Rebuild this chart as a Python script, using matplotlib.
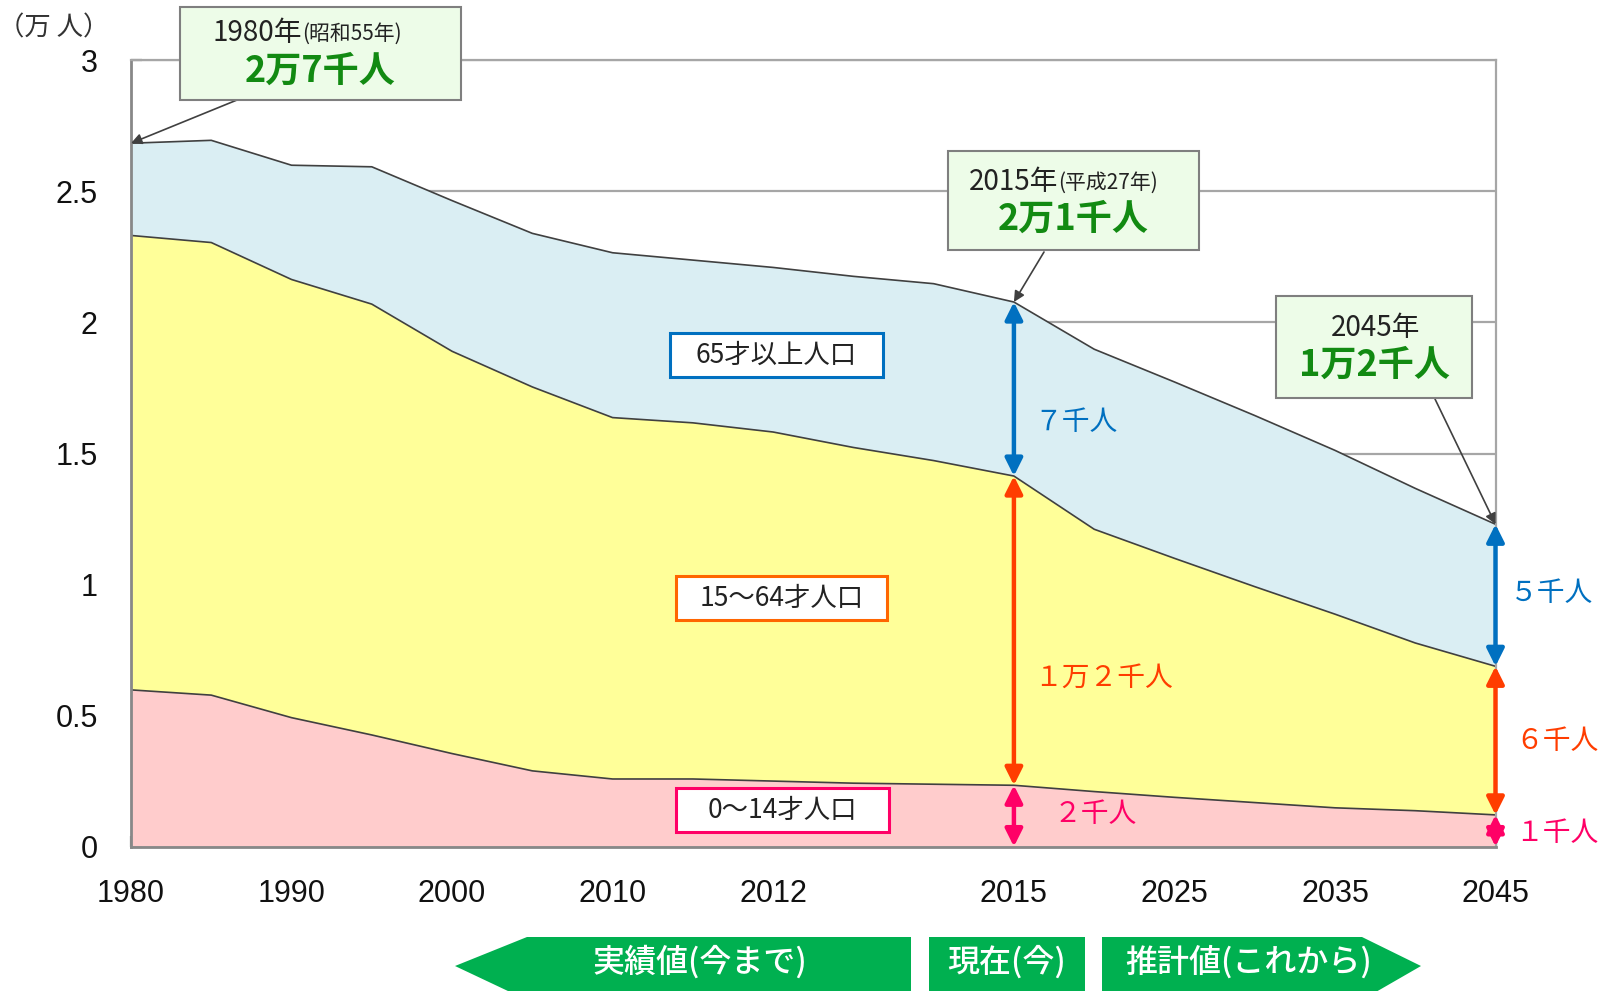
import matplotlib
matplotlib.use("Agg")
import matplotlib.pyplot as plt
from matplotlib.patches import Polygon, Rectangle
import numpy as np

plt.rcParams['font.family'] = ['Noto Sans CJK JP', 'DejaVu Sans']

# data (万人), 18 points on a category axis
tick_labels = ['1980', '', '1990', '', '2000', '', '2010', '', '2012', '', '',
               '2015', '', '2025', '', '2035', '', '2045']
young = [0.598, 0.578, 0.492, 0.426, 0.355, 0.289, 0.258, 0.258, 0.250,
         0.242, 0.238, 0.234, 0.210, 0.188, 0.168, 0.148, 0.137, 0.121]
working = [1.734, 1.727, 1.672, 1.644, 1.535, 1.465, 1.379, 1.359, 1.332,
           1.281, 1.235, 1.180, 1.001, 0.912, 0.824, 0.739, 0.640, 0.567]
elderly = [0.352, 0.390, 0.436, 0.524, 0.575, 0.586, 0.629, 0.621, 0.628,
           0.653, 0.675, 0.664, 0.687, 0.673, 0.653, 0.625, 0.590, 0.542]
group_names = ['0〜14才人口', '15〜64才人口', '65才以上人口']
group_colors = ['#FFCCCC', '#FFFF99', '#DAEEF3']
edge_colors = ['#FF0066', '#FF6600', '#0070C0']

x = np.arange(len(young))
c1 = np.array(young)
c2 = c1 + np.array(working)
c3 = c2 + np.array(elderly)

fig = plt.figure(figsize=(16.05, 9.91), dpi=100)
ax = fig.add_axes([131 / 1605, 1 - 846.6 / 991, (1495.5 - 131) / 1605, (846.6 - 60.4) / 991])

ax.stackplot(x, young, working, elderly, colors=group_colors, lw=0)
for c in (c1, c2, c3):
    ax.plot(x, c, color='#404040', lw=1.2)

ax.set_xlim(0, 17)
ax.set_ylim(0, 3)
ax.set_yticks(np.arange(0, 3.01, 0.5))
ax.set_yticklabels(['0', '0.5', '1', '1.5', '2', '2.5', '3'])
ax.set_xticks(x)
ax.set_xticklabels(tick_labels)
ax.yaxis.grid(True, color='#A6A6A6', lw=1.6)
ax.set_axisbelow(True)
ax.tick_params(axis='both', direction='in', color='#888888', width=1.6,
               labelsize=22, labelcolor='#111111')
ax.tick_params(axis='x', length=8, pad=23)
ax.tick_params(axis='y', length=8, pad=24)
for lbl in ax.get_xticklabels() + ax.get_yticklabels():
    lbl.set_family('Liberation Sans')
for s in ('left', 'bottom'):
    ax.spines[s].set_color('#888888')
    ax.spines[s].set_linewidth(2)
for s in ('top', 'right'):
    ax.spines[s].set_color('#A6A6A6')
    ax.spines[s].set_linewidth(1.6)

# overlay in pixel coordinates for boxes and banners
ov = fig.add_axes([0, 0, 1, 1], zorder=5)
ov.set_xlim(0, 1605)
ov.set_ylim(991, 0)
ov.axis('off')

ov.text(54, 28, '（万 人）', fontsize=19, color='#333333', ha='center', va='center')

# group label boxes
box_rects = [(676, 788, 213, 44), (676, 576, 211, 44), (670, 333, 213, 44)]
for name, ec, (bx, by, bw, bh) in zip(group_names, edge_colors, box_rects):
    ov.add_patch(Rectangle((bx, by), bw, bh, fc='white', ec=ec, lw=2.2, zorder=6))
    ov.text(bx + bw / 2, by + bh / 2, name, fontsize=19, color='#222222',
            ha='center', va='center', zorder=7)

# callout boxes
callouts = [
    ((180, 7, 281, 93), '1980年', '(昭和55年)', 302, 33, '2万7千人', 320, 71, (237, 100), 0, c3[0]),
    ((948, 151, 251, 99), '2015年', '(平成27年)', 1058, 182, '2万1千人', 1073, 219, (1044, 252), 11, c3[11]),
    ((1276, 296, 196, 102), '2045年', '', 1420, 328, '1万2千人', 1374, 365, (1435, 399), 17, c3[17]),
]
for (rx, ry, rw, rh), y1, y2, sx, ty1, big, cx, ty2, start, xi, yv in callouts:
    ov.add_patch(Rectangle((rx, ry), rw, rh, fc='#EDFCE8', ec='#7F7F7F', lw=1.5, zorder=6))
    ov.text(sx, ty1, y1, fontsize=20, color='#222222', ha='right', va='center', zorder=7)
    if y2:
        ov.text(sx, ty1 + 1, y2, fontsize=15, color='#222222', ha='left', va='center', zorder=7)
    ov.text(cx, ty2, big, fontsize=26, fontweight='bold', color='#128A12',
            ha='center', va='center', zorder=7)
    ax.annotate('', xy=(xi, yv), xycoords='data', xytext=start, textcoords=ov.transData,
                arrowprops=dict(arrowstyle='-|>', color='#404040', lw=1.2,
                                mutation_scale=16, shrinkA=0, shrinkB=0),
                annotation_clip=False)

# double-headed arrows with values
arrow_specs = [
    (11, c3[11], c2[11], '#0070C0', '７千人', 1034, 422),
    (11, c2[11], c1[11], '#FF3D00', '１万２千人', 1034, 678),
    (11, c1[11], 0, '#FF0066', '２千人', 1054, 814),
    (17, c3[17], c2[17], '#0070C0', '５千人', 1510, 593),
    (17, c2[17], c1[17], '#FF3D00', '６千人', 1515, 741),
    (17, c1[17], 0, '#FF0066', '１千人', 1515, 833),
]
for xi, ya, yb, col, txt, tx, ty in arrow_specs:
    ax.annotate('', xy=(xi, ya), xytext=(xi, yb),
                arrowprops=dict(arrowstyle='<|-|>', color=col, lw=3.2,
                                mutation_scale=26, shrinkA=0, shrinkB=0),
                annotation_clip=False, zorder=4)
    ov.text(tx, ty, txt, fontsize=20, color=col, ha='left', va='center')

# bottom banners
green = '#00B050'
ov.add_patch(Polygon([(455, 966), (527, 937), (911, 937), (911, 1000), (527, 1000)],
                     closed=True, fc=green, ec='none'))
ov.add_patch(Rectangle((929, 937), 156, 60, fc=green, ec='none'))
ov.add_patch(Polygon([(1102, 937), (1362, 937), (1421, 966), (1362, 1000), (1102, 1000)],
                     closed=True, fc=green, ec='none'))
for tx, txt in [(700, '実績値(今まで)'), (1007, '現在(今)'), (1249, '推計値(これから)')]:
    ov.text(tx, 962, txt, fontsize=23, fontweight='medium', color='white',
            ha='center', va='center')

fig.savefig('out.png', dpi=100)
